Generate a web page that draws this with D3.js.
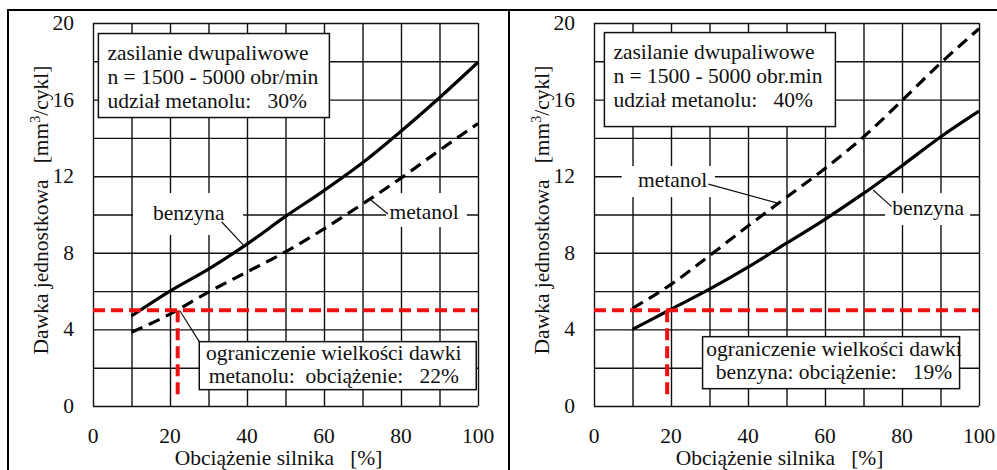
<!DOCTYPE html>
<html lang="pl">
<head>
<meta charset="UTF-8">
<script src="https://cdn.jsdelivr.net/npm/d3@7/dist/d3.min.js"></script>
</head>
<body style="margin:0; background:#fff">
<script>
  // engine load [%]
  var loadPct = [10, 20, 30, 40, 50, 60, 70, 80, 90, 100];

  // dose per cycle [mm3/cycle], 30% methanol share
  var leftBenzyna = [4.7, 6.0, 7.15, 8.45, 9.9, 11.25, 12.7, 14.35, 16.1, 17.95];
  var leftMetanol = [3.85, 4.8, 5.95, 7.0, 8.05, 9.25, 10.55, 11.9, 13.35, 14.75];

  // 40% methanol share
  var rightBenzyna = [4.0, 5.05, 6.1, 7.25, 8.5, 9.75, 11.1, 12.55, 14.05, 15.4];
  var rightMetanol = [5.1, 6.35, 7.85, 9.4, 10.9, 12.4, 14.05, 15.95, 17.9, 19.7];

  var xTicks = [0, 20, 40, 60, 80, 100];
  var yTicks = [0, 4, 8, 12, 16, 20];

  var doseLimit = 5;
  var leftLimitLoad = 22;
  var rightLimitLoad = 19;

  var xTitle = 'Obciążenie silnika   [%]';

  var width = 997, height = 470;
  var fontSize = 21.5;

  var svg = d3.select('body').append('svg')
    .attr('width', width)
    .attr('height', height);

  // outer frame (right and bottom edges fall outside the picture)
  svg.append('rect')
    .attr('x', 8).attr('y', 10)
    .attr('width', 1000).attr('height', 480)
    .attr('fill', 'none').attr('stroke', '#000').attr('stroke-width', 2);
  svg.append('line')
    .attr('x1', 509).attr('x2', 509).attr('y1', 10).attr('y2', 470)
    .attr('stroke', '#000').attr('stroke-width', 2);

  function addText(g) {
    return g.append('text')
      .attr('font-family', 'Liberation Serif')
      .attr('font-size', fontSize)
      .attr('fill', '#111')
      .attr('xml:space', 'preserve')
      .style('white-space', 'pre');
  }

  function drawPanel(p) {
    var x = d3.scaleLinear().domain([0, 100]).range([p.left, p.left + 385]);
    var y = d3.scaleLinear().domain([0, 20]).range([406, 23]);
    var g = svg.append('g');

    // grid
    g.append('g')
      .attr('transform', 'translate(0,406)')
      .call(d3.axisBottom(x).tickValues(d3.range(0, 101, 10)).tickSize(-383).tickFormat(''))
      .call(function(a) {
        a.select('.domain').remove();
        a.selectAll('line').attr('stroke', '#111').attr('stroke-width', 1.4);
      });
    g.append('g')
      .attr('transform', 'translate(' + p.left + ',0)')
      .call(d3.axisLeft(y).tickValues(d3.range(0, 21, 2)).tickSize(-385).tickFormat(''))
      .call(function(a) {
        a.select('.domain').remove();
        a.selectAll('line').attr('stroke', '#111').attr('stroke-width', 1.4);
      });

    // tick labels
    xTicks.forEach(function(d) {
      addText(g)
        .attr('x', x(d))
        .attr('y', 443)
        .attr('text-anchor', 'middle')
        .text(d);
    });
    yTicks.forEach(function(d) {
      addText(g)
        .attr('x', p.left - 19)
        .attr('y', y(d) + 7)
        .attr('text-anchor', 'end')
        .text(d);
    });

    // axis titles
    addText(g)
      .attr('x', (x(0) + x(100)) / 2 - 7)
      .attr('y', 465)
      .attr('text-anchor', 'middle')
      .text(xTitle);
    var yt = addText(g)
      .attr('transform', 'translate(' + (p.left - 45) + ',210) rotate(-90)')
      .attr('text-anchor', 'middle');
    yt.append('tspan').text('Dawka jednostkowa   [mm');
    yt.append('tspan').attr('font-size', 14).attr('dy', -8).text('3');
    yt.append('tspan').attr('font-size', fontSize).attr('dy', 8).text('/cykl]');

    // white backgrounds behind curve labels
    p.labels.forEach(function(l) {
      g.append('rect')
        .attr('x', x(l.bg[0])).attr('y', y(l.bg[1]))
        .attr('width', x(l.bg[2]) - x(l.bg[0]))
        .attr('height', y(l.bg[3]) - y(l.bg[1]))
        .attr('fill', '#fff');
    });

    // info boxes
    p.boxes.forEach(function(b) {
      g.append('rect')
        .attr('x', x(b.x)).attr('y', y(b.y))
        .attr('width', b.w).attr('height', b.h)
        .attr('fill', '#fff').attr('stroke', '#111').attr('stroke-width', 1.5);
      b.lines.forEach(function(t, i) {
        addText(g)
          .attr('x', b.align === 'middle' ? x(b.x) + b.w / 2 + b.dx : x(b.x) + 9)
          .attr('y', y(b.y) + b.base[i])
          .attr('text-anchor', b.align)
          .text(t);
      });
    });

    var line = d3.line()
      .x(function(d) { return x(d[0]); })
      .y(function(d) { return y(d[1]); })
      .curve(d3.curveMonotoneX);

    g.append('path')
      .datum(d3.zip(loadPct, p.benzyna))
      .attr('d', line)
      .attr('fill', 'none').attr('stroke', '#000').attr('stroke-width', 3.2);
    g.append('path')
      .datum(d3.zip(loadPct, p.metanol))
      .attr('d', line)
      .attr('fill', 'none').attr('stroke', '#000').attr('stroke-width', 3.2)
      .attr('stroke-dasharray', '12,7');

    // dose limit
    g.append('line')
      .attr('x1', x(0)).attr('x2', x(100))
      .attr('y1', y(doseLimit)).attr('y2', y(doseLimit))
      .attr('stroke', '#ee1111').attr('stroke-width', 4)
      .attr('stroke-dasharray', '12,6');
    g.append('line')
      .attr('x1', x(p.limitLoad)).attr('x2', x(p.limitLoad))
      .attr('y1', y(doseLimit)).attr('y2', y(0.45))
      .attr('stroke', '#ee1111').attr('stroke-width', 4)
      .attr('stroke-dasharray', '12,6');

    // leader lines
    p.leaders.forEach(function(l) {
      g.append('line')
        .attr('x1', x(l[0])).attr('y1', y(l[1]))
        .attr('x2', x(l[2])).attr('y2', y(l[3]))
        .attr('stroke', '#111').attr('stroke-width', 1.2);
    });

    p.labels.forEach(function(l) {
      addText(g)
        .attr('x', x(l.x)).attr('y', y(l.y))
        .attr('text-anchor', 'middle')
        .text(l.text);
    });
  }

  drawPanel({
    left: 93,
    benzyna: leftBenzyna,
    metanol: leftMetanol,
    limitLoad: leftLimitLoad,
    boxes: [
      { x: 1.4, y: 19.45, w: 231, h: 84, align: 'start', base: [26, 50.5, 74],
        lines: ['zasilanie dwupaliwowe', 'n = 1500 - 5000 obr/min', 'udział metanolu:   30%'] },
      { x: 27.6, y: 3.36, w: 277, h: 48, align: 'middle', dx: -4, base: [18.5, 41.5],
        lines: ['ograniczenie wielkości dawki', 'metanolu:  obciążenie:   22%'] }
    ],
    labels: [
      { text: 'benzyna', x: 24.9, y: 9.71, bg: [10.4, 11.12, 39, 8.93] },
      { text: 'metanol', x: 86.0, y: 9.74, bg: [76.1, 11.12, 97.1, 9.35] }
    ],
    leaders: [
      [33.4, 9.62, 39.0, 8.41],
      [76.6, 10.03, 72.2, 10.76],
      [22.6, 4.96, 27.6, 3.36]
    ]
  });

  drawPanel({
    left: 594,
    benzyna: rightBenzyna,
    metanol: rightMetanol,
    limitLoad: rightLimitLoad,
    boxes: [
      { x: 2.7, y: 19.5, w: 231, h: 94, align: 'start', base: [26, 50.5, 74],
        lines: ['zasilanie dwupaliwowe', 'n = 1500 - 5000 obr.min', 'udział metanolu:   40%'] },
      { x: 28.2, y: 3.62, w: 257, h: 52, align: 'middle', dx: 3, base: [19.3, 42.6],
        lines: ['ograniczenie wielkości dawki', 'benzyna: obciążenie:   19%'] }
    ],
    labels: [
      { text: 'metanol', x: 20.4, y: 11.44, bg: [7.2, 12.53, 31.4, 10.91] },
      { text: 'benzyna', x: 86.8, y: 9.97, bg: [75.6, 11.12, 97.7, 9.45] }
    ],
    leaders: [
      [29.7, 11.59, 47.9, 10.58],
      [77.3, 10.41, 72.5, 11.28]
    ]
  });
</script>
</body>
</html>
